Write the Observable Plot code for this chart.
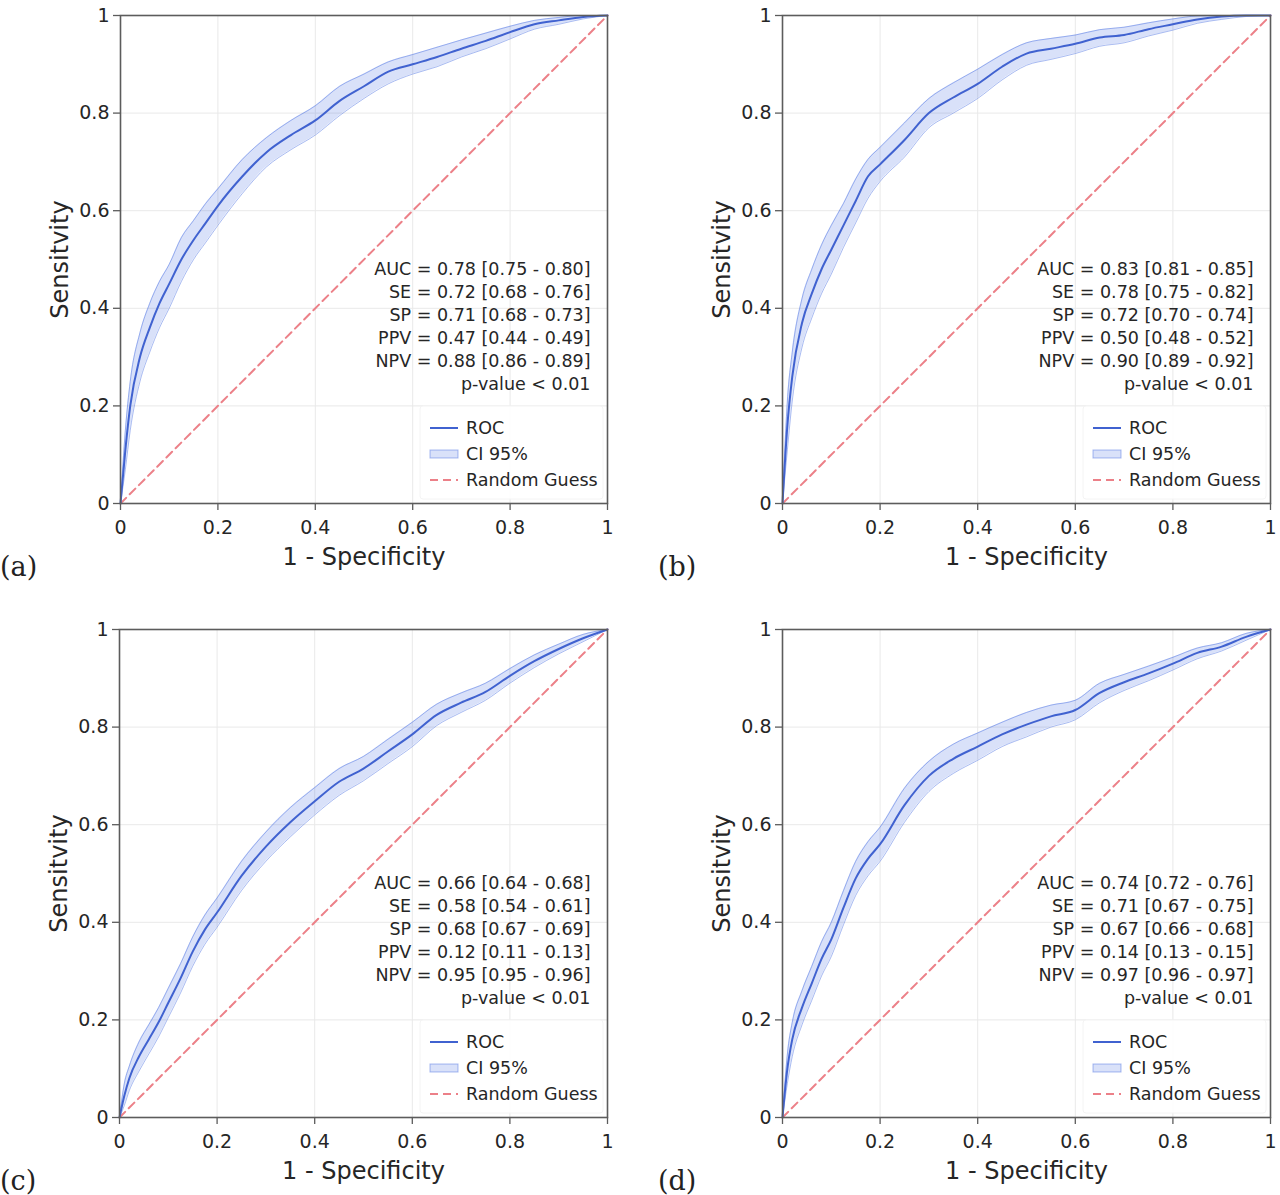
<!DOCTYPE html>
<html>
<head>
<meta charset="utf-8">
<script src="https://cdn.jsdelivr.net/npm/d3@7"></script>
<script src="https://cdn.jsdelivr.net/npm/@observablehq/plot@0.6"></script>
<style>
  html, body { margin: 0; padding: 0; background: white; }
  #root { position: relative; width: 1280px; height: 1195px; overflow: hidden; background: white; }
  .panel { position: absolute; }
</style>
</head>
<body>
<div id="root"></div>
<script>
// ---------- data ----------
const fprGrid = [0, 0.01, 0.02, 0.04, 0.06, 0.08, 0.1, 0.125, 0.15, 0.175, 0.2, 0.25, 0.3, 0.35, 0.4, 0.45, 0.5, 0.55, 0.6, 0.65, 0.7, 0.75, 0.8, 0.85, 0.9, 0.95, 1];

const rocA = [0, 0.11, 0.20, 0.30, 0.36, 0.41, 0.45, 0.50, 0.54, 0.575, 0.61, 0.67, 0.72, 0.755, 0.785, 0.825, 0.855, 0.885, 0.90, 0.915, 0.932, 0.948, 0.966, 0.982, 0.990, 0.997, 1];
const loA  = [0, 0.07, 0.15, 0.25, 0.31, 0.36, 0.40, 0.455, 0.50, 0.535, 0.57, 0.635, 0.69, 0.725, 0.755, 0.795, 0.83, 0.86, 0.88, 0.895, 0.915, 0.932, 0.952, 0.972, 0.982, 0.993, 1];
const hiA  = [0, 0.15, 0.25, 0.35, 0.41, 0.455, 0.49, 0.545, 0.58, 0.615, 0.645, 0.705, 0.75, 0.785, 0.815, 0.855, 0.88, 0.905, 0.92, 0.935, 0.95, 0.964, 0.978, 0.99, 0.996, 1, 1];

const rocB = [0, 0.16, 0.26, 0.37, 0.43, 0.48, 0.52, 0.57, 0.62, 0.67, 0.695, 0.745, 0.80, 0.832, 0.86, 0.895, 0.922, 0.932, 0.942, 0.955, 0.96, 0.972, 0.982, 0.992, 0.998, 1, 1];
const loB  = [0, 0.11, 0.21, 0.32, 0.38, 0.43, 0.47, 0.525, 0.575, 0.625, 0.66, 0.71, 0.77, 0.80, 0.83, 0.868, 0.898, 0.91, 0.922, 0.937, 0.944, 0.958, 0.97, 0.984, 0.992, 0.998, 1];
const hiB  = [0, 0.21, 0.31, 0.42, 0.48, 0.53, 0.57, 0.615, 0.665, 0.705, 0.73, 0.78, 0.83, 0.862, 0.89, 0.92, 0.944, 0.953, 0.96, 0.971, 0.976, 0.985, 0.993, 0.999, 1, 1, 1];

const rocC = [0, 0.045, 0.08, 0.125, 0.16, 0.195, 0.235, 0.285, 0.34, 0.385, 0.42, 0.495, 0.555, 0.605, 0.648, 0.688, 0.715, 0.75, 0.785, 0.825, 0.85, 0.872, 0.905, 0.935, 0.96, 0.982, 1];
const loC  = [0, 0.025, 0.055, 0.095, 0.13, 0.165, 0.205, 0.255, 0.31, 0.355, 0.39, 0.465, 0.525, 0.575, 0.62, 0.66, 0.69, 0.725, 0.76, 0.803, 0.83, 0.855, 0.89, 0.922, 0.95, 0.975, 1];
const hiC  = [0, 0.07, 0.105, 0.155, 0.19, 0.225, 0.265, 0.315, 0.37, 0.415, 0.45, 0.525, 0.585, 0.635, 0.676, 0.715, 0.74, 0.775, 0.81, 0.847, 0.87, 0.89, 0.92, 0.948, 0.97, 0.99, 1];

const rocD = [0, 0.10, 0.16, 0.225, 0.275, 0.325, 0.365, 0.43, 0.49, 0.53, 0.56, 0.64, 0.70, 0.735, 0.76, 0.785, 0.805, 0.822, 0.835, 0.87, 0.892, 0.91, 0.93, 0.952, 0.965, 0.985, 1];
const loD  = [0, 0.07, 0.125, 0.19, 0.24, 0.29, 0.33, 0.395, 0.455, 0.495, 0.525, 0.605, 0.668, 0.705, 0.732, 0.76, 0.78, 0.80, 0.815, 0.85, 0.875, 0.895, 0.917, 0.94, 0.956, 0.978, 1];
const hiD  = [0, 0.13, 0.195, 0.26, 0.31, 0.36, 0.40, 0.465, 0.525, 0.565, 0.595, 0.675, 0.73, 0.765, 0.788, 0.81, 0.83, 0.845, 0.855, 0.89, 0.908, 0.925, 0.943, 0.962, 0.973, 0.992, 1];

const diagX = [0, 1];
const diagY = [0, 1];

const statsA = ["AUC = 0.78 [0.75 - 0.80]", "SE = 0.72 [0.68 - 0.76]", "SP = 0.71 [0.68 - 0.73]", "PPV = 0.47 [0.44 - 0.49]", "NPV = 0.88 [0.86 - 0.89]", "p-value < 0.01"];
const statsB = ["AUC = 0.83 [0.81 - 0.85]", "SE = 0.78 [0.75 - 0.82]", "SP = 0.72 [0.70 - 0.74]", "PPV = 0.50 [0.48 - 0.52]", "NPV = 0.90 [0.89 - 0.92]", "p-value < 0.01"];
const statsC = ["AUC = 0.66 [0.64 - 0.68]", "SE = 0.58 [0.54 - 0.61]", "SP = 0.68 [0.67 - 0.69]", "PPV = 0.12 [0.11 - 0.13]", "NPV = 0.95 [0.95 - 0.96]", "p-value < 0.01"];
const statsD = ["AUC = 0.74 [0.72 - 0.76]", "SE = 0.71 [0.67 - 0.75]", "SP = 0.67 [0.66 - 0.68]", "PPV = 0.14 [0.13 - 0.15]", "NPV = 0.97 [0.96 - 0.97]", "p-value < 0.01"];

const axisTicks = [0, 0.2, 0.4, 0.6, 0.8, 1];
const legendLabels = ["ROC", "CI 95%", "Random Guess"];
const panelTags = ["(a)", "(b)", "(c)", "(d)"];
const xLabel = "1 - Specificity";
const yLabel = "Sensitvity";

// ---------- style ----------
const BLUE = "#4169e1";
const ROC_COLOR = "#4062d0";
const DIAG_COLOR = "#ec8088";
const FRAME = "#5c5c5c";
const H = 581, MT = 15, MB = 78;
const fmt = d3.format("~g");
const CURVE = "monotone-x";

function panel({roc, lo, hi, stats, tag, left, top, width, marginLeft, marginRight}) {
  const rows = fprGrid.map((x, i) => ({x, y: roc[i], lo: lo[i], hi: hi[i]}));
  const diag = diagX.map((x, i) => ({x, y: diagY[i]}));
  const chart = Plot.plot({
    width, height: H, marginLeft, marginRight, marginTop: MT, marginBottom: MB,
    x: {domain: [0, 1]},
    y: {domain: [0, 1]},
    style: {fontFamily: "DejaVu Sans", color: "#262626", background: "white"},
    marks: [
      Plot.gridX(axisTicks, {stroke: "#e9e9e9", strokeOpacity: 1, strokeWidth: 1}),
      Plot.gridY(axisTicks, {stroke: "#e9e9e9", strokeOpacity: 1, strokeWidth: 1}),
      Plot.line(diag, {x: "x", y: "y", stroke: DIAG_COLOR, strokeWidth: 2, strokeDasharray: "8,5"}),
      Plot.areaY(rows, {x: "x", y1: "lo", y2: "hi", fill: BLUE, fillOpacity: 0.2, curve: CURVE}),
      Plot.line(rows, {x: "x", y: "lo", stroke: BLUE, strokeOpacity: 0.45, strokeWidth: 1, curve: CURVE}),
      Plot.line(rows, {x: "x", y: "hi", stroke: BLUE, strokeOpacity: 0.45, strokeWidth: 1, curve: CURVE}),
      Plot.line(rows, {x: "x", y: "y", stroke: ROC_COLOR, strokeWidth: 2, curve: CURVE}),
      Plot.frame({stroke: FRAME, strokeWidth: 1.6}),
      Plot.axisX({ticks: axisTicks, tickFormat: fmt, tickSize: 7, tickPadding: 10, fontSize: 19, label: null, stroke: FRAME, strokeWidth: 1.3}),
      Plot.axisY({ticks: axisTicks, tickFormat: fmt, tickSize: 7, tickPadding: 4, fontSize: 19, label: null, stroke: FRAME, strokeWidth: 1.3}),
      Plot.text([stats.join("\n")], {text: d => d, frameAnchor: "top-right", dx: -17, dy: 243, textAnchor: "end", lineAnchor: "top", lineHeight: 1.314, fontSize: 17.5, fill: "#262626"}),
      Plot.text([xLabel], {text: d => d, frameAnchor: "bottom", dy: 54, textAnchor: "middle", lineAnchor: "middle", fontSize: 24, fill: "#262626"}),
      Plot.text([yLabel], {text: d => d, frameAnchor: "left", dx: -60, rotate: -90, textAnchor: "middle", lineAnchor: "middle", fontSize: 24, fill: "#262626"})
    ]
  });

  // legend (matplotlib style, lower right, on top)
  const svg = d3.select(chart);
  const pr = width - marginRight, pb = H - MB;
  const g = svg.append("g").attr("font-family", "DejaVu Sans").attr("font-size", 17.5).attr("text-anchor", "start");
  g.append("rect").attr("x", pr - 187).attr("y", pb - 97).attr("width", 183).attr("height", 93)
    .attr("rx", 3).attr("fill", "white").attr("fill-opacity", 0.9).attr("stroke", "#f4f4f4");
  legendLabels.forEach((lab, i) => {
    const cy = pb - 75 + i * 26;
    const x0 = pr - 177, x1 = pr - 149;
    if (i === 0) {
      g.append("line").attr("x1", x0).attr("x2", x1).attr("y1", cy).attr("y2", cy)
        .attr("stroke", ROC_COLOR).attr("stroke-width", 2);
    } else if (i === 1) {
      g.append("rect").attr("x", x0).attr("y", cy - 4).attr("width", x1 - x0).attr("height", 8)
        .attr("fill", BLUE).attr("fill-opacity", 0.2).attr("stroke", BLUE).attr("stroke-opacity", 0.45);
    } else {
      g.append("line").attr("x1", x0).attr("x2", x1).attr("y1", cy).attr("y2", cy)
        .attr("stroke", DIAG_COLOR).attr("stroke-width", 2).attr("stroke-dasharray", "8,5");
    }
    g.append("text").attr("x", pr - 141).attr("y", cy).attr("dy", "0.35em")
      .attr("text-anchor", "start").attr("fill", "#262626").text(lab);
  });
  // panel tag
  svg.append("text").attr("x", 0).attr("y", 576).attr("font-family", "DejaVu Serif")
    .attr("text-anchor", "start").attr("font-size", 27).attr("fill", "#222").text(tag);

  const div = document.createElement("div");
  div.className = "panel";
  div.style.left = left + "px";
  div.style.top = top + "px";
  div.style.width = width + "px";
  div.style.height = H + "px";
  div.appendChild(chart);
  document.getElementById("root").appendChild(div);
}

panel({roc: rocA, lo: loA, hi: hiA, stats: statsA, tag: panelTags[0], left: 0, top: 0, width: 640, marginLeft: 120, marginRight: 33});
panel({roc: rocB, lo: loB, hi: hiB, stats: statsB, tag: panelTags[1], left: 658, top: 0, width: 622, marginLeft: 124, marginRight: 10});
panel({roc: rocC, lo: loC, hi: hiC, stats: statsC, tag: panelTags[2], left: 0, top: 614, width: 640, marginLeft: 119, marginRight: 33});
panel({roc: rocD, lo: loD, hi: hiD, stats: statsD, tag: panelTags[3], left: 658, top: 614, width: 622, marginLeft: 124, marginRight: 10});
</script>
</body>
</html>
